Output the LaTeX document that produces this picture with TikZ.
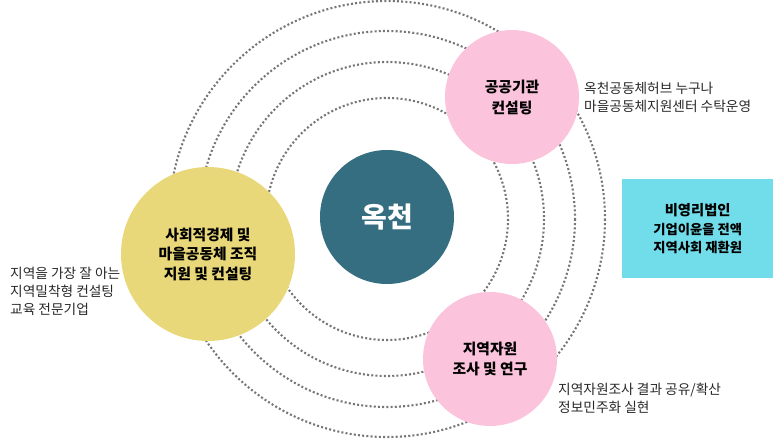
\documentclass[tikz,border=0pt]{standalone}
\usepackage{fontspec}
\newfontfamily\kr{Noto Sans CJK KR}
\definecolor{orbitgray}{RGB}{118,118,118}
\definecolor{teal1}{RGB}{52,110,128}
\definecolor{pink1}{RGB}{252,196,220}
\definecolor{yellow1}{RGB}{232,216,122}
\definecolor{cyan1}{RGB}{114,221,234}
\definecolor{txtgray}{RGB}{40,40,40}
\begin{document}
\begin{tikzpicture}[x=1pt,y=-1pt,
  orbit/.style={draw=orbitgray,line width=2.1pt,dash pattern=on 2pt off 2.2pt},
  bubble/.style={circle,inner sep=0pt,align=center,text=black,
    font=\kr\bfseries\fontsize{14.8}{19.5}\selectfont},
  side/.style={inner sep=0pt,align=left,anchor=west,text=txtgray,
    font=\kr\fontsize{13.7}{18}\selectfont}]
\useasboundingbox (0,0) rectangle (773,439);
\coordinate (c) at (387,219);
\foreach \r in {121,157,188,218} \draw[orbit] (c) circle[radius=\r];
\node[circle,inner sep=0pt,minimum size=134pt,fill=teal1,text=white,
  font=\kr\bfseries\fontsize{28}{30}\selectfont] (hub) at (387,217) {옥천};
\node[bubble,minimum size=134pt,fill=pink1,
  font=\kr\bfseries\fontsize{14.8}{21}\selectfont] (pub) at (512,97) {공공기관\\컨설팅};
\node[bubble,minimum size=174pt,fill=yellow1] (soc) at (208,254) {사회적경제 및\\마을공동체 조직\\지원 및 컨설팅};
\node[bubble,minimum size=134pt,fill=pink1,
  font=\kr\bfseries\fontsize{14.8}{20}\selectfont] (res) at (490,359) {지역자원\\조사 및 연구};
\node[rectangle,inner sep=0pt,minimum width=151pt,minimum height=99pt,fill=cyan1,
  anchor=north west] (np) at (622,179) {};
\node[align=center,inner sep=0pt,text=black,
  font=\kr\bfseries\fontsize{13.3}{18.5}\selectfont] (nptext) at (np.center)
  {{\fontsize{14.3}{18.5}\selectfont 비영리법인}\\기업이윤을 전액\\지역사회 재환원};
\node[side] (pubnote) at (584,97) {옥천공동체허브 누구나\\마을공동체지원센터 수탁운영};
\node[side] (socnote) at (10,291) {지역을 가장 잘 아는\\지역밀착형 컨설팅\\교육 전문기업};
\node[side] (resnote) at (558,398) {지역자원조사 결과 공유/확산\\정보민주화 실현};
\end{tikzpicture}
\end{document}
